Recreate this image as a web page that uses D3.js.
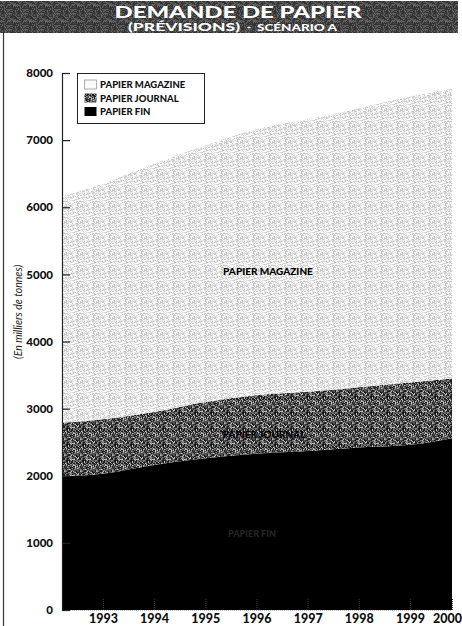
<!DOCTYPE html>
<html>
<head>
<meta charset="utf-8">
<script src="https://cdn.jsdelivr.net/npm/d3@7"></script>
<style>
  html, body { margin: 0; padding: 0; background: #fff; }
  svg { display: block; }
</style>
</head>
<body>
<svg id="chart" width="462" height="626"></svg>
<script>
// Demande de papier (prévisions), scénario A — en milliers de tonnes.
// Each series holds the thickness of its own layer; layers are stacked
// from the bottom: papier fin, papier journal, papier magazine.
const periods = [1992.2, 1993, 1994, 1995, 1996, 1997, 1998, 1999, 2000];
const papierFin      = [1990, 2030, 2160, 2260, 2330, 2370, 2420, 2460, 2560];
const papierJournal  = [800, 810, 790, 840, 870, 880, 900, 930, 890];
const papierMagazine = [3370, 3510, 3700, 3820, 3965, 4060, 4155, 4260, 4310];

const yearTicks  = [1993, 1994, 1995, 1996, 1997, 1998, 1999, 2000];
const valueTicks = [0, 1000, 2000, 3000, 4000, 5000, 6000, 7000, 8000];
const seriesKeys   = ["fin", "journal", "magazine"];
const seriesLabels = ["PAPIER FIN", "PAPIER JOURNAL", "PAPIER MAGAZINE"];

const rows = periods.map((p, i) => ({
  period: p,
  fin: papierFin[i],
  journal: papierJournal[i],
  magazine: papierMagazine[i]
}));

const svg = d3.select("#chart");
const FONT = "Lato, 'Open Sans', 'DejaVu Sans', sans-serif";

// ---- screen-like halftone fills ------------------------------------------
// A small integer hash gives a fixed speckle layout for each tile.
function hash(px, py, salt) {
  let h = (px * 374761393 + py * 668265263 + salt * 2147483647) | 0;
  h = Math.imul(h ^ (h >>> 13), 1274126177);
  h = h ^ (h >>> 16);
  return (h >>> 0) / 4294967295;
}
const defs = svg.append("defs");
function speckle(id, size, salt, shades) {
  const p = defs.append("pattern")
    .attr("id", id)
    .attr("patternUnits", "userSpaceOnUse")
    .attr("width", size).attr("height", size);
  for (let py = 0; py < size; py++) {
    for (let px = 0; px < size; px++) {
      const v = hash(px, py, salt);
      const shade = shades.find(s => v < s[0])[1];
      p.append("rect").attr("x", px).attr("y", py)
        .attr("width", 1).attr("height", 1).attr("fill", shade)
        .attr("shape-rendering", "crispEdges");
    }
  }
}
speckle("pat-magazine", 16, 3, [[0.4, "#ffffff"], [0.75, "#e4e4e4"], [1.01, "#cacaca"]]);
speckle("pat-journal", 16, 7, [[0.35, "#1e1e1e"], [0.65, "#505050"], [0.87, "#868686"], [1.01, "#bdbdbd"]]);
speckle("pat-band", 16, 11, [[0.5, "#333333"], [0.8, "#4d4d4d"], [1.01, "#666666"]]);
const fills = { fin: "#000000", journal: "url(#pat-journal)", magazine: "url(#pat-magazine)" };

// ---- title band ----------------------------------------------------------
svg.append("rect")
  .attr("x", 0).attr("y", 1).attr("width", 458).attr("height", 32)
  .attr("fill", "url(#pat-band)");

svg.append("text")
  .attr("x", 238).attr("y", 18)
  .attr("text-anchor", "middle")
  .attr("font-family", FONT).attr("font-weight", 900).attr("font-size", 16)
  .attr("fill", "#ffffff")
  .attr("textLength", 247).attr("lengthAdjust", "spacingAndGlyphs")
  .text("DEMANDE DE PAPIER");

const sub = svg.append("text")
  .attr("y", 30.5)
  .attr("font-family", FONT).attr("font-weight", 900)
  .attr("fill", "#ffffff");
sub.append("tspan").attr("x", 128).attr("font-size", 11.5)
  .attr("textLength", 112).attr("lengthAdjust", "spacingAndGlyphs")
  .text("(PRÉVISIONS)");
sub.append("tspan").attr("x", 247).attr("font-size", 10.5).text("-");
sub.append("tspan").attr("x", 257).attr("font-size", 8.5)
  .attr("textLength", 80).attr("lengthAdjust", "spacingAndGlyphs")
  .text("SCÉNARIO A");

// left frame rule
svg.append("line")
  .attr("x1", 3.5).attr("y1", 33).attr("x2", 3.5).attr("y2", 626)
  .attr("stroke", "#333").attr("stroke-width", 1.2);

// ---- scales --------------------------------------------------------------
const x = d3.scaleLinear()
  .domain([1992.2, 1999, 2000])
  .range([62, 410, 452]);
const y = d3.scaleLinear()
  .domain([0, 8000])
  .range([610, 73]);

// ---- stacked areas -------------------------------------------------------
const stacked = d3.stack().keys(seriesKeys)(rows);
const area = d3.area()
  .x(d => x(d.data.period))
  .y0(d => y(d[0]))
  .y1(d => y(d[1]))
  .curve(d3.curveMonotoneX);

svg.append("g")
  .selectAll("path")
  .data(stacked)
  .join("path")
  .attr("d", area)
  .attr("fill", d => fills[d.key]);

// faint baseline under the areas
svg.append("line")
  .attr("x1", x(1992.2)).attr("x2", x(2000))
  .attr("y1", y(0) + 0.5).attr("y2", y(0) + 0.5)
  .attr("stroke", "#bbb").attr("stroke-dasharray", "1,1");

// ---- y axis --------------------------------------------------------------
const yAxis = svg.append("g")
  .attr("transform", `translate(${x(1992.2)},0)`)
  .call(d3.axisLeft(y).tickValues(valueTicks).tickSize(-8).tickSizeOuter(0).tickPadding(9)
    .tickFormat(d3.format("d")));
yAxis.select(".domain").attr("stroke", "#222").attr("stroke-width", 1.2);
yAxis.selectAll(".tick line").attr("stroke", "#222").attr("stroke-width", 1.2);
yAxis.selectAll(".tick text")
  .attr("font-family", FONT).attr("font-weight", 900).attr("font-size", 11.5)
  .attr("fill", "#111");

svg.append("text")
  .attr("transform", "translate(22,312) rotate(-90)")
  .attr("text-anchor", "middle")
  .attr("font-family", FONT).attr("font-style", "italic").attr("font-size", 10.5)
  .attr("fill", "#222")
  .text("(En milliers de tonnes)");

// ---- x axis --------------------------------------------------------------
const xAxis = svg.append("g")
  .attr("transform", `translate(0,${y(0)})`)
  .call(d3.axisBottom(x).tickValues(yearTicks).tickSize(-12).tickSizeOuter(0)
    .tickFormat(d3.format("d")));
xAxis.select(".domain").remove();
xAxis.selectAll(".tick line").attr("stroke", "#3a3a3a").attr("stroke-dasharray", "1,1");
xAxis.selectAll(".tick text")
  .attr("font-family", FONT).attr("font-weight", 900).attr("font-size", 12.5)
  .attr("fill", "#111")
  .attr("y", 13).attr("dy", 0)
  .attr("dx", d => d === 2000 ? -5 : 0);

// ---- labels inside the layers --------------------------------------------
svg.append("text")
  .attr("x", 268).attr("y", 274.5).attr("text-anchor", "middle")
  .attr("font-family", FONT).attr("font-weight", 900).attr("font-size", 10)
  .attr("fill", "#000").text("PAPIER MAGAZINE");
svg.append("text")
  .attr("x", 264).attr("y", 437.5).attr("text-anchor", "middle")
  .attr("font-family", FONT).attr("font-weight", 900).attr("font-size", 10)
  .attr("fill", "#000").text("PAPIER JOURNAL");
svg.append("text")
  .attr("x", 252).attr("y", 537).attr("text-anchor", "middle")
  .attr("font-family", FONT).attr("font-weight", 900).attr("font-size", 9)
  .attr("fill", "#262626").text("PAPIER FIN");

// ---- legend --------------------------------------------------------------
const legend = svg.append("g");
legend.append("rect")
  .attr("x", 77.5).attr("y", 73.5).attr("width", 127).attr("height", 50)
  .attr("fill", "#fff").attr("stroke", "#222").attr("stroke-width", 1);

const legendOrder = ["magazine", "journal", "fin"];
const legendRows = legendOrder.map((k, i) => ({
  key: k,
  label: seriesLabels[seriesKeys.indexOf(k)],
  cy: 84.5 + i * 13.5
}));
const lg = legend.selectAll("g.item").data(legendRows).join("g").attr("class", "item");
lg.append("rect")
  .attr("x", 84.5).attr("y", d => d.cy - 4.5)
  .attr("width", 12).attr("height", 9)
  .attr("fill", d => d.key === "magazine" ? "#fafafa" : fills[d.key])
  .attr("stroke", d => d.key === "magazine" ? "#999" : "none")
  .attr("stroke-width", 0.8);
lg.append("text")
  .attr("x", 100).attr("y", d => d.cy + 3.5)
  .attr("font-family", FONT).attr("font-weight", 900).attr("font-size", 9.5)
  .attr("fill", "#111")
  .text(d => d.label);
</script>
</body>
</html>
